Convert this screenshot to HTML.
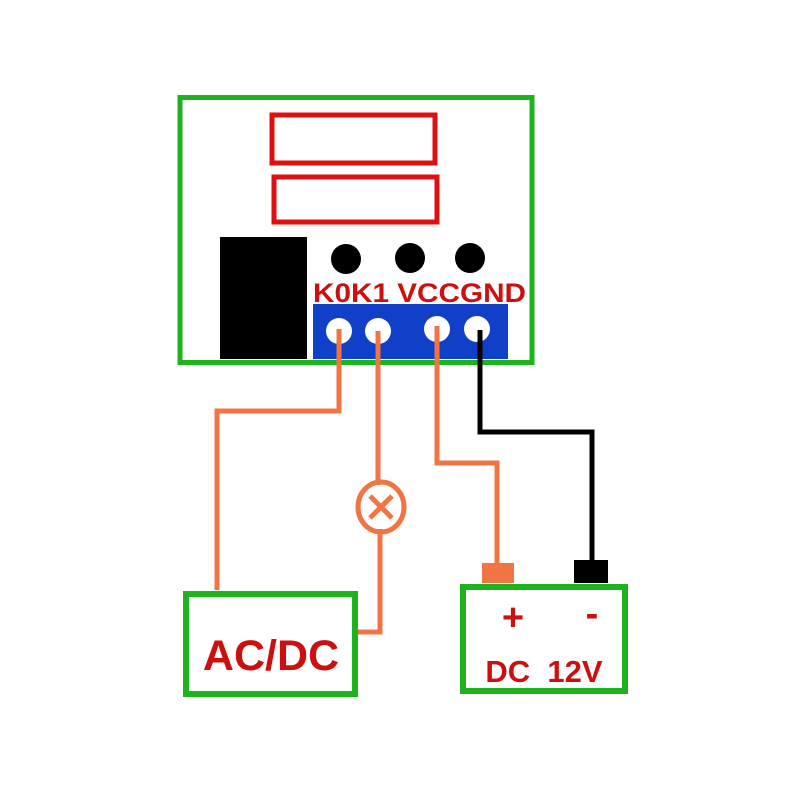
<!DOCTYPE html>
<html><head><meta charset="utf-8"><style>html,body{margin:0;padding:0;background:#fff}svg{display:block}</style></head>
<body>
<svg width="800" height="800" viewBox="0 0 800 800" xmlns="http://www.w3.org/2000/svg">
<rect width="800" height="800" fill="#fff"/>
<rect x="180" y="97.5" width="352" height="265" fill="none" stroke="#1db31d" stroke-width="5"/>
<rect x="272" y="115" width="163" height="48" fill="none" stroke="#e01010" stroke-width="5"/>
<rect x="274" y="177" width="163" height="45" fill="none" stroke="#e01010" stroke-width="5"/>
<rect x="220" y="237" width="87" height="122" fill="#000"/>
<circle cx="346" cy="259" r="15" fill="#000"/>
<circle cx="410" cy="258" r="15" fill="#000"/>
<circle cx="470" cy="258" r="15" fill="#000"/>
<text x="313" y="302" font-family="Liberation Sans, sans-serif" font-weight="bold" font-size="27" fill="#cc1010" textLength="213" lengthAdjust="spacingAndGlyphs">K0K1 VCCGND</text>
<rect x="313" y="304" width="195" height="55" fill="#1040c8"/>
<circle cx="339" cy="331" r="13" fill="#fff"/>
<circle cx="378" cy="331" r="13" fill="#fff"/>
<circle cx="437" cy="329" r="13" fill="#fff"/>
<circle cx="477" cy="329" r="13" fill="#fff"/>
<g fill="none" stroke="#f07444" stroke-width="5" stroke-linejoin="miter">
<polyline points="339,329 339,411 217,411 217,590"/>
<polyline points="378,331 378,485"/>
<polyline points="380,529 380,632 356,632"/>
<polyline points="437,326 437,463 497,463 497,565"/>
<ellipse cx="381" cy="507" rx="23" ry="25"/>
<line x1="370" y1="496" x2="392" y2="518"/>
<line x1="392" y1="496" x2="370" y2="518"/>
</g>
<polyline points="480,330 480,432 592,432 592,562" fill="none" stroke="#000" stroke-width="5"/>
<rect x="482" y="563" width="32" height="20" fill="#f07444"/>
<rect x="574" y="560" width="34" height="23" fill="#000"/>
<rect x="186" y="594" width="169" height="100" fill="none" stroke="#1db31d" stroke-width="6"/>
<text x="271" y="670" text-anchor="middle" font-family="Liberation Sans, sans-serif" font-weight="bold" font-size="43" fill="#cc1010">AC/DC</text>
<rect x="463" y="587" width="162" height="104" fill="none" stroke="#1db31d" stroke-width="6"/>
<text x="513" y="630" text-anchor="middle" font-family="Liberation Sans, sans-serif" font-weight="bold" font-size="38" fill="#cc1010">+</text>
<text x="592" y="626" text-anchor="middle" font-family="Liberation Sans, sans-serif" font-weight="bold" font-size="38" fill="#cc1010">-</text>
<text x="544" y="682" text-anchor="middle" font-family="Liberation Sans, sans-serif" font-weight="bold" font-size="31" fill="#cc1010">DC&#160;&#160;12V</text>
</svg>
</body></html>
